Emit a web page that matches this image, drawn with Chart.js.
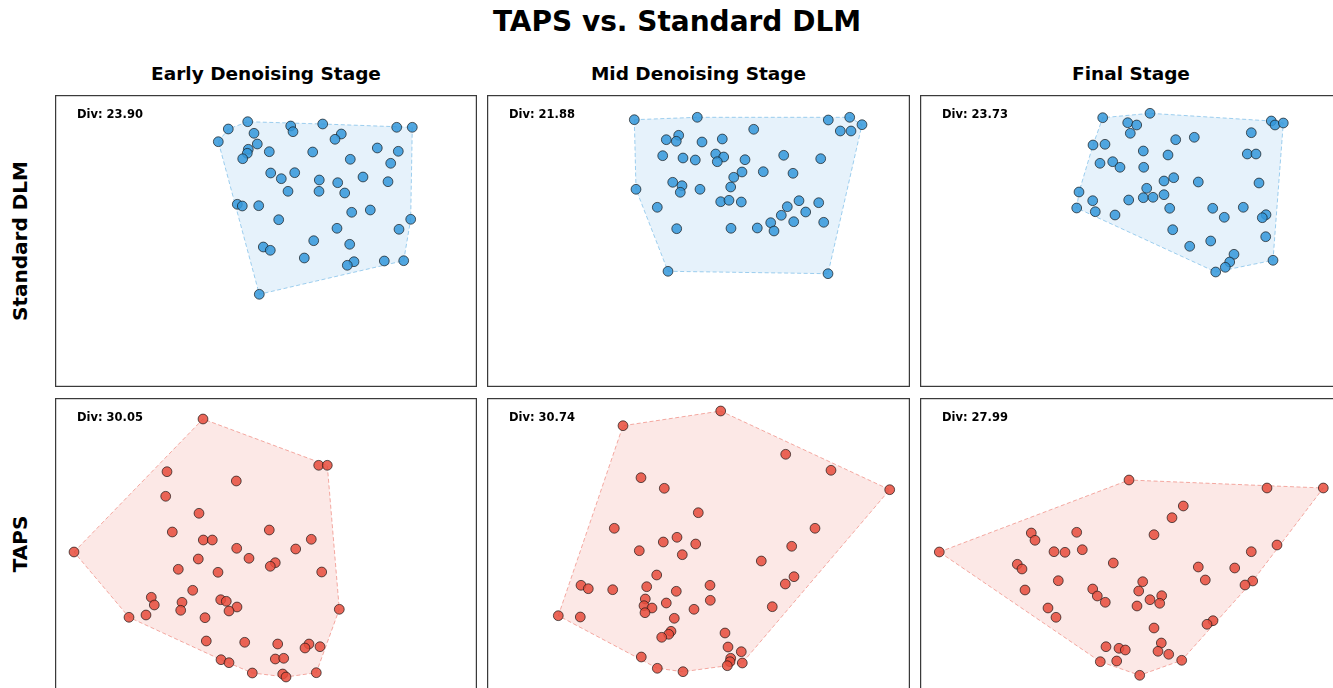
<!DOCTYPE html>
<html>
<head>
<meta charset="utf-8">
<script src="https://cdn.jsdelivr.net/npm/chart.js@4.4.1/dist/chart.umd.min.js"></script>
<style>
body{margin:0;width:1333px;height:688px;overflow:hidden;background:#fff;position:relative;font-family:"DejaVu Sans",sans-serif}
.t{position:absolute;font-weight:bold;color:#000;white-space:nowrap;line-height:1}
canvas{position:absolute}
</style>
</head>
<body>
<script>
// Labels
const title = "TAPS vs. Standard DLM";
const stages = ["Early Denoising Stage","Mid Denoising Stage","Final Stage"];
const methods = ["Standard DLM","TAPS"];
const divStd = [23.90,21.88,23.73];
const divTaps = [30.05,30.74,27.99];

// Standard DLM - embeddings (2D projection)
const stdEarlyX = [218.3,228.3,247.7,254,257.3,248.3,247.3,242.7,269.3,290.7,293,322.7,341.3,335,312.7,350.3,377.3,398.3,390.7,396.7,412.3,270.7,281.3,294.7,288,319.3,319,337.7,344.7,363,388,237.3,242.3,258.7,278.7,351.7,370.3,410.7,399,337,313.7,349.7,263.3,270.3,304.3,354,347.3,384.3,403.7,259.3];
const stdEarlyY = [141.7,129,121.7,133.3,144,149.3,153.3,158.7,151.7,126,131.7,124,134,139.3,152,159.3,148,151.3,163.3,127.3,127.3,173,178.7,172.7,191.3,180,191.3,182.7,193,177,181.7,204.3,206,205.7,219.7,212.3,210,219.3,229.3,228.3,240.7,244.3,247,250.3,258,261.7,265.3,261,260.7,294.3];
const stdMidX = [634.3,697.3,828.3,849.7,862,840.3,851,753.7,666.3,678.7,676.3,702,722.3,662.7,683,695.3,715.7,723.7,717.3,745,783.7,820.7,742,733.7,763.3,793,730.7,672.7,682,680.3,700,636,657.3,720.7,729,741.3,799,787.3,818.7,805.7,781.3,770.7,793.7,823.7,774,757.3,731,676.7,668,828];
const stdMidY = [119.7,117.3,120,117.3,124.7,131,131,129.3,139.7,135.3,141.3,142,139,155.7,158,160,154,157,161.7,159.7,155.3,158.7,172,177.3,171.7,173.3,187,182.3,185.7,192.3,189.3,189.3,207.3,201.7,200.3,202,200.7,206.7,202.7,212,215.3,222.7,221.7,222.3,231,228,228.3,228.7,271.3,273.7];
const stdFinalX = [1102.7,1150,1127.7,1136.7,1130.3,1271.3,1275,1283.3,1251.3,1175.7,1194.3,1093,1105,1143.3,1168,1247.3,1256,1100,1112.7,1120,1143.7,1173.7,1164,1198.3,1259,1079,1146.7,1092.7,1128.7,1143.3,1153,1164,1076.7,1095.3,1115,1169.7,1212.7,1243.3,1224.3,1266,1262.3,1172.7,1265.7,1189.7,1210.7,1234,1229.7,1225.3,1215.7,1273];
const stdFinalY = [117.7,113.3,122.7,125,133.3,121,125,123,132.7,139.7,137.3,145,144.3,151,155,154,154,163.3,161.7,167.3,167.3,177.7,181,182,183,192,188.3,200.7,200,197.7,197.3,194.7,208,211.7,215,208.3,208.3,207.3,217.3,214.7,217.7,229.7,236.7,246.3,241,254.3,262,267.3,272,260.3];

// TAPS - embeddings
const tapsEarlyX = [203,318.7,327.3,167,236.3,165.7,199,172.3,269.3,311.3,203.3,212.3,236.7,295.7,74,198.3,249,275.3,270.3,178.3,218,321.7,192.7,151.3,154.3,182,180.7,220.7,226.3,237,229,339.3,129,146,205,206.3,244.7,277.7,309,305,320,275.3,283.7,221,229,252.3,282.7,286,316.3];
const tapsEarlyY = [419,465.3,465.3,471.7,481,496.3,513.3,532,530,539.3,540,540,548.3,549,552,559,558.3,562.7,566.3,569.3,572.3,572,590.3,597.3,605,602.3,610.3,599.7,601.3,607,611,609.3,617.3,615,617.7,641,642.3,644,644,648,646.7,659,658.3,659.7,662.7,673,674,677,672.7];
const tapsMidX = [720.7,623,785.7,831,889.7,641,664.3,698.3,614.3,815,663.3,677,695.7,639.3,682.3,791.7,761.3,656.7,581,588.3,612.7,646.7,676.3,710,785.3,794,645.3,644,652,645,666.3,710.3,694,772.3,558.3,580.3,674.3,671,668.7,661.7,725,728,741.3,730.7,730,727.3,742.3,641.3,657.3,683];
const tapsMidY = [411,425.7,454.3,470.3,489.7,477.7,488.3,512.7,528.3,528.3,542,537.3,544,550.7,554.7,546.3,561,575,585.3,588.7,589.7,586.7,591.3,585.3,584,576.7,599,605.7,608,612.7,603,600.3,609.3,606.7,615.7,617,618.3,631.3,634.3,637.3,633,647,651.7,658.3,661.7,665.7,663,657,668.3,671.7];
const tapsFinalX = [939.3,1129,1267,1323.3,1183.3,1172,1154,1031.3,1035,1076.7,1054,1065,1082.3,1113.3,1277,1251.3,1017.3,1022,1198.3,1234.7,1058.3,1142.7,1205.3,1252.7,1245,1025,1092.7,1138.7,1097.3,1105.3,1150,1161.7,1159.7,1137,1048,1056,1213,1207,1154,1106,1119,1125.3,1161.3,1158,1168.7,1100.3,1116.7,1181.7,1139.7];
const tapsFinalY = [552,480,488,488,506,517.7,534.7,533,540.3,532.3,551.7,552.3,549.7,563,545,551.7,564.3,569,567,568,580.7,581.7,580,581,585,590,589,591,596,602.3,599.7,595.7,603.3,606,608,617.3,620.7,624.3,628,646.7,648.3,650,643,651.3,654.3,661.7,661,660.3,675.3];

// panel frames (axis ranges)
const colX = [[55,477],[487,910],[920,1342]];
const rowY = [[95,387],[398,690]];

function addText(txt, css){
  const d = document.createElement("div");
  d.className = "t";
  d.textContent = txt;
  d.style.cssText += css;
  document.body.appendChild(d);
  return d;
}

// convex hull (monotone chain)
function hull(pts){
  const p = pts.slice().sort((a,b)=>a.x-b.x || a.y-b.y);
  const cross=(o,a,b)=>(a.x-o.x)*(b.y-o.y)-(a.y-o.y)*(b.x-o.x);
  const lo=[], up=[];
  for(const q of p){ while(lo.length>=2 && cross(lo[lo.length-2],lo[lo.length-1],q)<=0) lo.pop(); lo.push(q); }
  for(let i=p.length-1;i>=0;i--){ const q=p[i]; while(up.length>=2 && cross(up[up.length-2],up[up.length-1],q)<=0) up.pop(); up.push(q); }
  up.pop(); lo.pop();
  const h = lo.concat(up);
  h.push(h[0]);
  return h;
}

const frame = {
  id:"frame",
  afterDraw(c){
    const ctx=c.ctx;
    ctx.save();
    ctx.strokeStyle="#3a3a3a";
    ctx.lineWidth=1.25;
    ctx.strokeRect(0.6,0.6,c.width-1.2,c.height-1.2);
    ctx.restore();
  }
};

const panels = [
  [stdEarlyX,stdEarlyY,0,0,divStd[0]],
  [stdMidX,stdMidY,0,1,divStd[1]],
  [stdFinalX,stdFinalY,0,2,divStd[2]],
  [tapsEarlyX,tapsEarlyY,1,0,divTaps[0]],
  [tapsMidX,tapsMidY,1,1,divTaps[1]],
  [tapsFinalX,tapsFinalY,1,2,divTaps[2]]
];

const colors = [
  {pt:"rgba(52,152,219,0.85)",fill:"rgba(52,152,219,0.12)",line:"rgba(52,152,219,0.45)"},
  {pt:"rgba(231,76,60,0.85)",fill:"rgba(231,76,60,0.13)",line:"rgba(231,76,60,0.45)"}
];

panels.forEach(([xs,ys,r,c,div])=>{
  const [x0,x1]=colX[c], [y0,y1]=rowY[r];
  const cv=document.createElement("canvas");
  cv.style.left=x0+"px"; cv.style.top=y0+"px";
  cv.style.width=(x1-x0)+"px"; cv.style.height=(y1-y0)+"px";
  cv.width=x1-x0; cv.height=y1-y0;
  document.body.appendChild(cv);
  const pts = xs.map((x,i)=>({x:x,y:ys[i]}));
  const col = colors[r];
  new Chart(cv,{
    type:"scatter",
    data:{datasets:[
      {data:pts,backgroundColor:col.pt,borderColor:"rgba(20,20,20,0.85)",borderWidth:0.8,pointRadius:4.9,order:1},
      {data:hull(pts),showLine:true,fill:"shape",backgroundColor:col.fill,borderColor:col.line,borderWidth:1,borderDash:[4,2.5],pointRadius:0,order:2,tension:0}
    ]},
    options:{
      responsive:false,animation:false,devicePixelRatio:1,
      layout:{padding:0,autoPadding:false},
      plugins:{legend:{display:false},tooltip:{enabled:false}},
      scales:{
        x:{type:"linear",min:x0,max:x1,display:false},
        y:{type:"linear",min:y0,max:y1,reverse:true,display:false}
      }
    },
    plugins:[frame]
  });
  addText("Div: "+div.toFixed(2),"left:"+(x0+22)+"px;top:"+(y0+14)+"px;font-size:11.5px");
});

// titles
addText(title,"left:0;width:1354px;text-align:center;top:8px;font-size:28px");
stages.forEach((s,i)=>{
  const cx=(colX[i][0]+colX[i][1])/2;
  addText(s,"left:"+(cx-200)+"px;width:400px;text-align:center;top:65px;font-size:18.5px");
});
methods.forEach((m,i)=>{
  const cy=(rowY[i][0]+rowY[i][1])/2;
  addText(m,"left:"+(20-150)+"px;width:300px;text-align:center;top:"+(cy-10)+"px;height:20px;font-size:20px;transform:rotate(-90deg)");
});
</script>
</body>
</html>
